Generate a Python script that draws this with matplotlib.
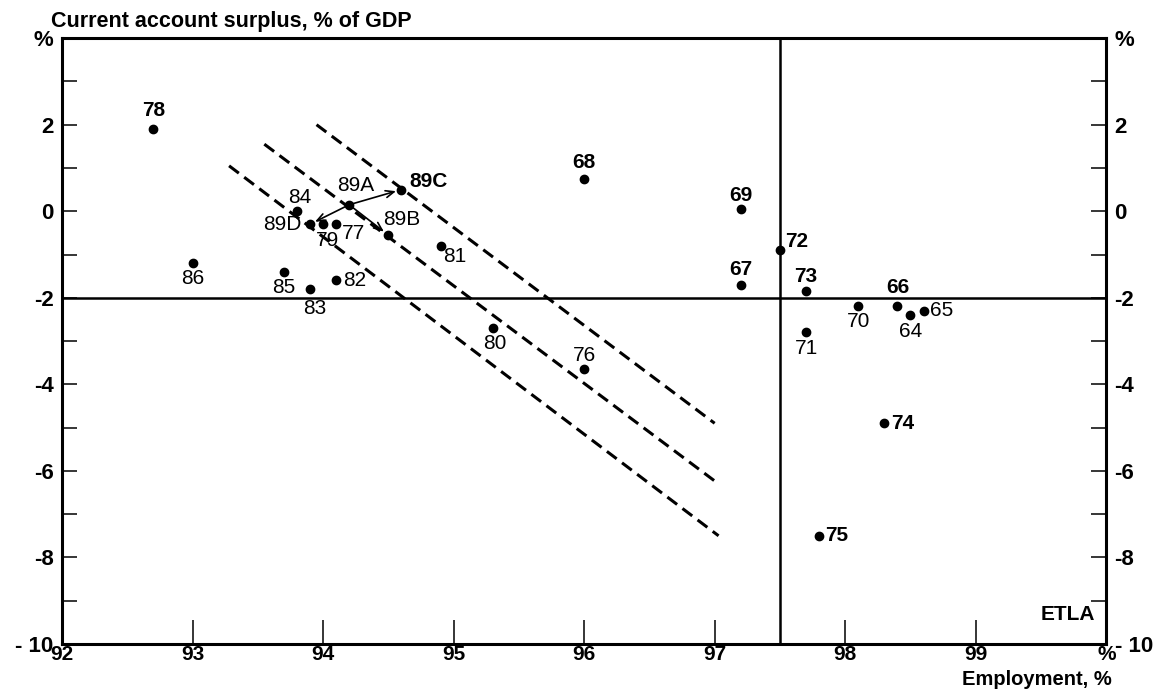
import matplotlib.pyplot as plt
import numpy as np

plt.rcParams['font.family'] = ['Liberation Sans', 'DejaVu Sans']

# employment rate (%) vs current account balance (% of GDP), by year
years = ['64', '65', '66', '67', '68', '69', '70', '71', '72', '73', '74', '75',
         '76', '77', '78', '79', '80', '81', '82', '83', '84', '85', '86',
         '89A', '89B', '89C', '89D']
employment = [98.5, 98.6, 98.4, 97.2, 96.0, 97.2, 98.1, 97.7, 97.5, 97.7, 98.3, 97.8,
              96.0, 94.1, 92.7, 94.0, 95.3, 94.9, 94.1, 93.9, 93.8, 93.7, 93.0,
              94.2, 94.5, 94.6, 93.9]
current_account = [-2.4, -2.3, -2.2, -1.7, 0.75, 0.05, -2.2, -2.8, -0.9, -1.85, -4.9, -7.5,
                   -3.65, -0.3, 1.9, -0.3, -2.7, -0.8, -1.6, -1.8, 0.0, -1.4, -1.2,
                   0.15, -0.55, 0.5, -0.3]

# 1989 scenarios start from 89A
scenario_from = '89A'
scenario_to = ['89B', '89C', '89D']

# iso-lines (dashed), start and end points
iso_x0 = [93.95, 93.55, 93.28]
iso_y0 = [2.0, 1.55, 1.05]
iso_x1 = [97.0, 97.03, 97.03]
iso_y1 = [-4.9, -6.3, -7.5]

# reference levels
ref_employment = 97.5
ref_balance = -2.0

x_ticks = [92, 93, 94, 95, 96, 97, 98, 99, 100]
x_ticklabels = ['92', '93', '94', '95', '96', '97', '98', '99', '%']
y_ticks = list(range(-10, 5))
y_ticklabels = ['- 10', '', '-8', '', '-6', '', '-4', '', '-2', '', '0', '', '2', '', '%']

# label placement: (dx, dy) in points, horizontal alignment, bold
placement = {
    '64': (0, -12, 'center', False), '65': (5, 0, 'left', False),
    '66': (0, 13.5, 'center', True), '67': (0, 11, 'center', True),
    '68': (0, 11.5, 'center', True), '69': (0, 10, 'center', True),
    '70': (0, -11, 'center', False), '71': (0, -11.5, 'center', False),
    '72': (4, 6, 'left', True), '73': (0, 11, 'center', True),
    '74': (5, 0, 'left', True), '75': (4, 0, 'left', True),
    '76': (0, 9.5, 'center', False), '77': (4, -7, 'left', False),
    '78': (0, 13, 'center', True), '79': (3.5, -12, 'center', False),
    '80': (1.5, -11, 'center', False), '81': (10, -8, 'center', False),
    '82': (5, 0, 'left', False), '83': (3.5, -14, 'center', False),
    '84': (2, 10, 'center', False), '85': (0, -11, 'center', False),
    '86': (0, -11, 'center', False), '89A': (5, 14, 'center', False),
    '89B': (10, 11, 'center', False), '89C': (6, 5.5, 'left', True),
    '89D': (-6, 0, 'right', False),
}

fig = plt.figure(figsize=(11.72, 6.90), dpi=100)
ax = fig.add_axes([0.0529, 0.0667, 0.891, 0.878])
ax.set_xlim(92, 100)
ax.set_ylim(-10, 4)

for s in ax.spines.values():
    s.set_linewidth(2.2)

ax.axhline(ref_balance, color='black', lw=1.8)
ax.axvline(ref_employment, color='black', lw=1.8)

for x0, y0, x1, y1 in zip(iso_x0, iso_y0, iso_x1, iso_y1):
    ax.plot([x0, x1], [y0, y1], color='black', lw=2.2, dashes=(4, 2.2),
            solid_capstyle='butt', dash_capstyle='butt')

ax.plot(employment, current_account, 'o', color='black', ms=6, zorder=3)

pos = dict(zip(years, zip(employment, current_account)))
for yr in scenario_to:
    ax.annotate('', xy=pos[yr], xytext=pos[scenario_from],
                arrowprops=dict(arrowstyle='->,head_length=0.6,head_width=0.25',
                                color='black', lw=1.2, shrinkA=0, shrinkB=4))

for yr, x, y in zip(years, employment, current_account):
    dx, dy, ha, bold = placement[yr]
    ax.annotate(yr, (x, y), xytext=(dx, dy), textcoords='offset points',
                ha=ha, va='center', fontsize=15,
                fontweight='bold' if bold else 'normal')

ax.set_xticks(x_ticks)
ax.set_xticklabels(x_ticklabels)
ax.set_yticks(y_ticks)
ax.set_yticklabels(y_ticklabels)
ax.tick_params(axis='x', direction='in', length=17, width=1.1, pad=0.5,
               labelsize=15)
ax.tick_params(axis='y', direction='in', length=11, width=1.1, pad=6,
               left=True, right=True, labelleft=True, labelright=True,
               labelsize=16)
for lbl in ax.get_xticklabels() + ax.get_yticklabels():
    lbl.set_fontweight('bold')

ax.text(0.989, 0.049, 'ETLA', transform=ax.transAxes, ha='right', va='center',
        fontsize=15, fontweight='bold')

fig.text(51 / 1172, 1 - 22 / 690, 'Current account surplus, % of GDP',
         ha='left', va='center', fontsize=15.5, fontweight='bold')
fig.text(1112 / 1172, 1 / 690, 'Employment, %', ha='right', va='bottom',
         fontsize=14.5, fontweight='bold')

fig.savefig('out.png', dpi=100)
